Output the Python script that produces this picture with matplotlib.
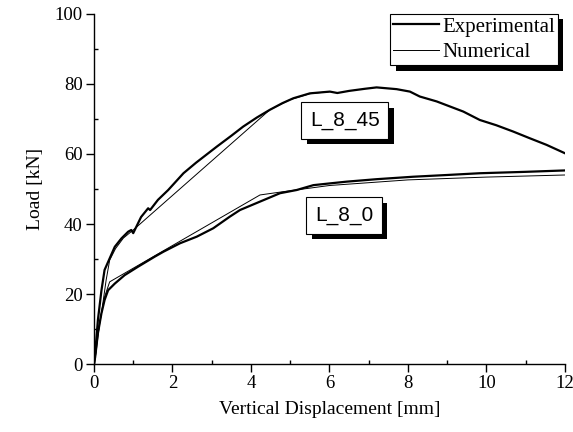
import matplotlib
matplotlib.use("Agg")
import matplotlib.pyplot as plt
import matplotlib.patheffects as pe
from matplotlib.ticker import MultipleLocator

plt.rcParams['font.family'] = ['Liberation Serif', 'DejaVu Serif']

# L_8_45 experimental
x45_exp = [0.0, 0.03, 0.10, 0.19, 0.27, 0.40, 0.53, 0.70, 0.87, 0.95, 1.00, 1.20, 1.38, 1.43, 1.63,
           1.89, 2.28, 2.60, 3.13, 3.50, 3.80, 4.15, 4.48, 4.80, 5.08, 5.50, 6.01, 6.20, 6.50, 6.90,
           7.20, 7.71, 8.05, 8.30, 8.73, 9.41, 9.83, 10.25, 10.68, 11.10, 11.53, 12.0]
y45_exp = [0.0, 3.0, 12.6, 21.0, 26.9, 30.2, 33.5, 35.9, 37.8, 38.3, 37.4, 42.0, 44.5, 44.0, 46.9,
           49.7, 54.5, 57.5, 62.1, 65.2, 67.8, 70.4, 72.6, 74.5, 75.9, 77.3, 77.8, 77.4, 78.0, 78.6,
           79.0, 78.5, 77.8, 76.4, 75.0, 72.1, 69.7, 68.2, 66.4, 64.5, 62.6, 60.2]

# L_8_45 numerical
x45_num = [0.0, 0.05, 0.19, 0.31, 0.40, 0.55, 0.75, 1.00, 4.48, 5.00, 5.50, 6.00]
y45_num = [0.0, 5.0, 14.5, 24.0, 29.7, 33.0, 36.0, 38.3, 72.6, 75.5, 77.2, 77.8]

# L_8_0 experimental
x0_exp = [0.0, 0.03, 0.10, 0.19, 0.27, 0.36, 0.53, 0.78, 1.12, 1.55, 1.77, 2.19, 2.62, 3.04, 3.46,
          3.72, 4.23, 4.74, 5.16, 5.59, 6.01, 6.44, 7.20, 8.13, 9.00, 9.83, 11.0, 12.0]
y0_exp = [0.0, 2.0, 8.8, 14.5, 18.3, 21.1, 23.0, 25.4, 27.8, 30.7, 32.1, 34.5, 36.4, 38.8, 42.1,
          44.0, 46.4, 48.8, 49.7, 51.1, 51.6, 52.1, 52.8, 53.5, 54.0, 54.5, 54.9, 55.3]

# L_8_0 numerical
x0_num = [0.0, 0.06, 0.14, 0.27, 0.40, 4.23, 4.80, 6.00, 8.00, 10.0, 12.0]
y0_num = [0.0, 4.0, 11.6, 19.2, 23.5, 48.3, 49.2, 51.0, 52.6, 53.4, 54.0]

fig = plt.figure(figsize=(5.73, 4.32), dpi=100)
ax = fig.add_axes([0.164, 0.157, 0.822, 0.811])

l_exp, = ax.plot(x45_exp, y45_exp, color='black', lw=1.6, label='Experimental')
ax.plot(x0_exp, y0_exp, color='black', lw=1.6)
l_num, = ax.plot(x45_num, y45_num, color='black', lw=0.7, label='Numerical')
ax.plot(x0_num, y0_num, color='black', lw=0.7)

ax.set_xlim(0, 12)
ax.set_ylim(0, 100)
ax.xaxis.set_major_locator(MultipleLocator(2))
ax.xaxis.set_minor_locator(MultipleLocator(1))
ax.yaxis.set_major_locator(MultipleLocator(20))
ax.yaxis.set_minor_locator(MultipleLocator(10))
ax.tick_params(which='major', direction='out', length=6, width=1, labelsize=13.5, pad=2)
ax.tick_params(which='minor', direction='in', length=3, width=1)
ax.spines['top'].set_visible(False)
ax.spines['right'].set_visible(False)
for s in ('left', 'bottom'):
    ax.spines[s].set_linewidth(1.0)

ax.set_xlabel('Vertical Displacement [mm]', fontsize=14, labelpad=6)
ax.set_ylabel('Load [kN]', fontsize=14, labelpad=8)

shadow = [pe.SimplePatchShadow(offset=(4, -4), shadow_rgbFace='black', alpha=1.0), pe.Normal()]

leg = ax.legend(handles=[l_exp, l_num], loc='upper right', bbox_to_anchor=(0.985, 1.0),
                fontsize=15, frameon=True, fancybox=False, edgecolor='black',
                framealpha=1, borderpad=0.15, handlelength=2.2, handletextpad=0.15,
                labelspacing=0.28, borderaxespad=0.0)
leg.get_frame().set_linewidth(0.8)
leg.get_frame().set_path_effects(shadow)

for txt, xx, yy in [('L_8_45', 6.39, 69.6), ('L_8_0', 6.37, 42.4)]:
    t = ax.text(xx, yy, txt, fontsize=15, family=['Liberation Sans', 'DejaVu Sans'],
                ha='center', va='center',
                bbox=dict(boxstyle='square,pad=0.42', facecolor='white', edgecolor='black', lw=0.8))
    t.get_bbox_patch().set_path_effects(shadow)

fig.savefig('out.png', dpi=100)
